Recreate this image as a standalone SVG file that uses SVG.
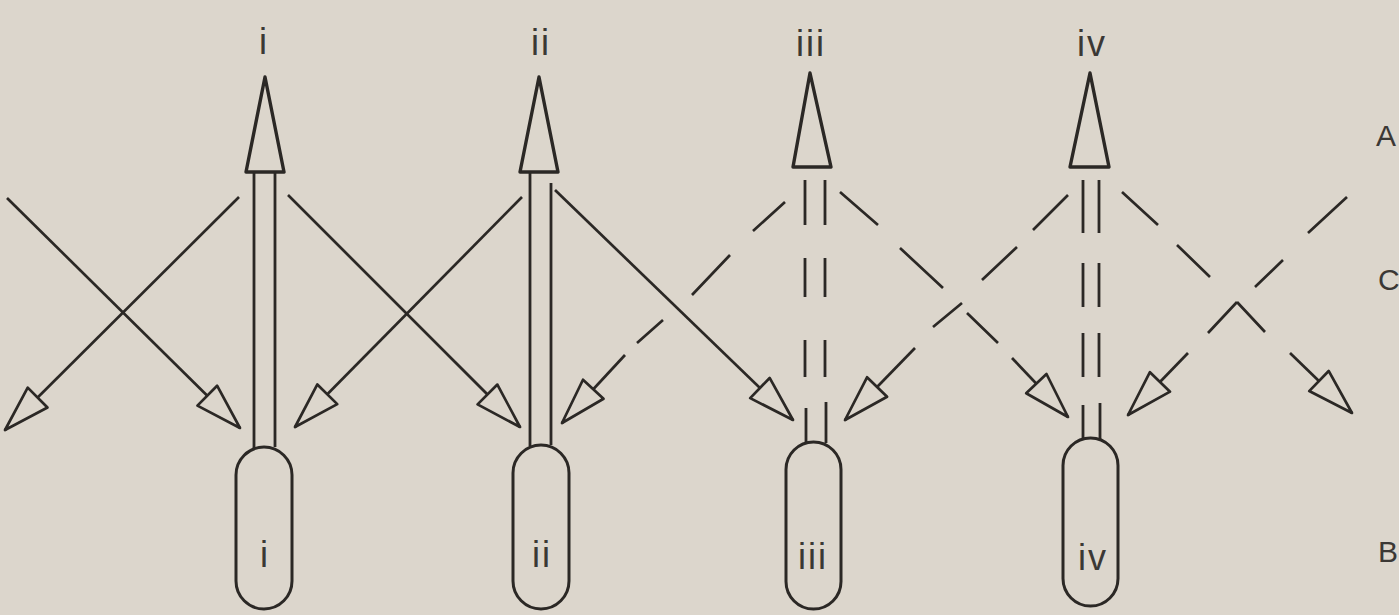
<svg xmlns="http://www.w3.org/2000/svg" width="1399" height="615" viewBox="0 0 1399 615">
<style>
.bg{fill:#dcd6cc}
.ln{stroke:#2b2825;stroke-width:2.7;fill:none;stroke-linecap:butt}
.st{stroke:#2b2825;stroke-width:2.8;fill:none}
.tri{fill:#dcd6cc;stroke:#2b2825;stroke-width:3.4;stroke-linejoin:round}
.pill{fill:#dcd6cc;stroke:#2b2825;stroke-width:3}
.head{fill:#dcd6cc;stroke:#2b2825;stroke-width:2.7;stroke-linejoin:round}
.lbl{font-family:"Liberation Sans",Arial,sans-serif;font-size:36px;fill:#3b3835;text-anchor:middle;letter-spacing:2px}
.side{font-family:"Liberation Sans",Arial,sans-serif;font-size:30px;fill:#3b3835}
</style>
<defs>
<marker id="ah" viewBox="-4 -18 54 36" refX="46" refY="0" markerWidth="54" markerHeight="36" markerUnits="userSpaceOnUse" orient="auto">
<path class="head" d="M0,-14 L46,0 L0,14 Z"/>
</marker>
</defs>
<rect class="bg" x="0" y="0" width="1399" height="615"/>

<g id="col-i">
<text class="lbl" x="264" y="54">i</text>
<line class="st" x1="254" y1="172" x2="254" y2="449"/>
<line class="st" x1="275" y1="172" x2="275" y2="447"/>
<path class="tri" d="M246,172 L265,77 L284,172 Z"/>
<rect class="pill" x="236" y="447" width="56" height="162" rx="28"/>
<text class="lbl" x="265" y="567">i</text>
</g>

<g id="col-ii">
<text class="lbl" x="541" y="55">ii</text>
<line class="st" x1="530" y1="172" x2="530" y2="446"/>
<line class="st" x1="551" y1="183" x2="551" y2="445"/>
<path class="tri" d="M520,172 L539,77 L558,172 Z"/>
<rect class="pill" x="513" y="445" width="56" height="164" rx="28"/>
<text class="lbl" x="542" y="567">ii</text>
</g>

<g id="col-iii">
<text class="lbl" x="811" y="56">iii</text>
<path class="st" d="M805,180 V225 M805,258 V297 M805,340 V377 M806,408 V443 M825,180 V225 M825,258 V297 M825,340 V377 M826,402 V443"/>
<path class="tri" d="M793,167 L810,73 L831,167 Z"/>
<rect class="pill" x="786" y="442" width="55" height="167" rx="27.5"/>
<text class="lbl" x="813" y="569">iii</text>
</g>

<g id="col-iv">
<text class="lbl" x="1092" y="56">iv</text>
<path class="st" d="M1083,180 V233 M1083,263 V307 M1083,333 V377 M1083,405 V439 M1099,180 V233 M1099,263 V307 M1099,333 V377 M1100,403 V439"/>
<path class="tri" d="M1070,167 L1090,73 L1109,167 Z"/>
<rect class="pill" x="1063" y="438" width="55" height="168" rx="27.5"/>
<text class="lbl" x="1093" y="570">iv</text>
</g>

<g id="connectors">
<line class="ln" x1="7" y1="198" x2="240" y2="428" marker-end="url(#ah)"/>
<line class="ln" x1="239" y1="197" x2="5" y2="430" marker-end="url(#ah)"/>
<line class="ln" x1="288" y1="195" x2="520" y2="427" marker-end="url(#ah)"/>
<line class="ln" x1="522" y1="197" x2="295" y2="427" marker-end="url(#ah)"/>
<line class="ln" x1="555" y1="190" x2="793" y2="420" marker-end="url(#ah)"/>
<path class="ln" d="M785,202 L753,231 M730,255 L692,295 M663,320 L637,343"/>
<line class="ln" x1="625" y1="355" x2="562" y2="423" marker-end="url(#ah)"/>
<path class="ln" d="M840,192 L878,225 M900,248 L943,288 M967,313 L998,343"/>
<line class="ln" x1="1012" y1="358" x2="1068" y2="417" marker-end="url(#ah)"/>
<path class="ln" d="M1068,195 L1033,230 M1017,247 L982,280 M962,303 L933,327"/>
<line class="ln" x1="915" y1="348" x2="845" y2="420" marker-end="url(#ah)"/>
<path class="ln" d="M1122,192 L1158,225 M1177,245 L1210,277 M1237,302 L1265,332"/>
<line class="ln" x1="1290" y1="353" x2="1352" y2="413" marker-end="url(#ah)"/>
<path class="ln" d="M1347,197 L1308,233 M1283,260 L1255,287 M1237,302 L1208,333"/>
<line class="ln" x1="1188" y1="353" x2="1128" y2="415" marker-end="url(#ah)"/>
</g>

<g id="side-labels">
<text class="side" x="1376" y="146">A</text>
<text class="side" x="1378" y="290">C</text>
<text class="side" x="1378" y="562">B</text>
</g>
</svg>
